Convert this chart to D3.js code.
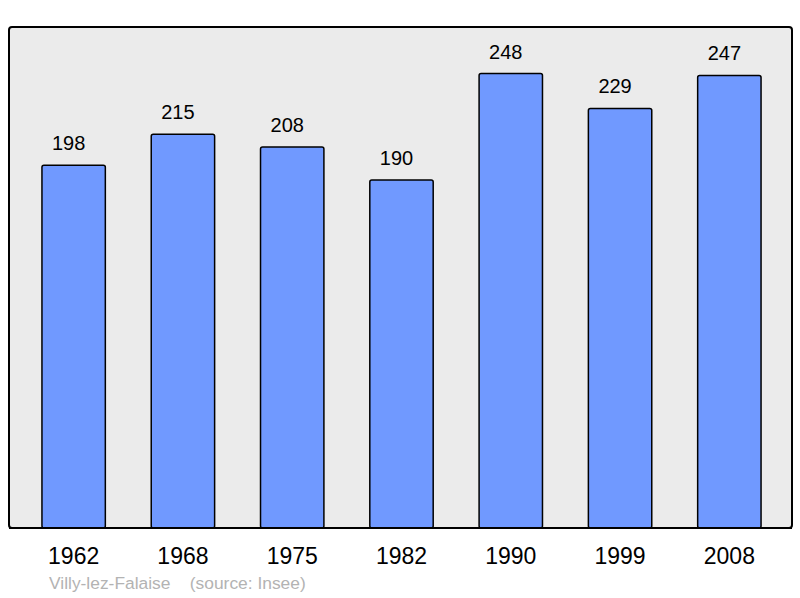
<!DOCTYPE html>
<html>
<head>
<meta charset="utf-8">
<script src="https://cdn.jsdelivr.net/npm/d3@7"></script>
<style>
  body { margin: 0; background: #fff; }
  text { font-family: "Liberation Sans", Arial, sans-serif; }
</style>
</head>
<body>
<div id="chart"></div>
<script>
'use strict';

const years = ['1962', '1968', '1975', '1982', '1990', '1999', '2008'];
const population = [198, 215, 208, 190, 248, 229, 247];
const commune = 'Villy-lez-Falaise';
const source = '(source: Insee)';

const settings = {
    width: 800,
    height: 598,
    elId: '#chart',
};

const frame = { left: 9, top: 27, right: 792, bottom: 528 };

const svg = d3.select(settings.elId)
    .append('svg')
    .attr('width', settings.width)
    .attr('height', settings.height);

// plot background
svg.append('rect')
    .attr('x', frame.left)
    .attr('y', frame.top)
    .attr('width', frame.right - frame.left)
    .attr('height', frame.bottom - frame.top)
    .attr('rx', 3)
    .attr('fill', '#ebebeb')
    .attr('stroke', '#000')
    .attr('stroke-width', 2);

const x = d3.scaleBand()
    .domain(years)
    .range([19, 784])
    .paddingInner(0.42)
    .paddingOuter(0.21);

const y = d3.scaleLinear()
    .domain([0, d3.max(population) * 1.1])
    .range([frame.bottom, frame.top]);

const data = years.map((yr, i) => ({ year: yr, value: population[i] }));

// bars
svg.append('g')
    .selectAll('rect')
    .data(data)
    .enter()
    .append('rect')
    .attr('x', d => x(d.year))
    .attr('y', d => y(d.value) + 1)
    .attr('width', x.bandwidth())
    .attr('height', d => frame.bottom - y(d.value) - 1)
    .attr('rx', 2)
    .attr('fill', '#7099ff')
    .attr('stroke', '#000')
    .attr('stroke-width', 1.5);

// redraw bottom edge of the frame over the bars
svg.append('line')
    .attr('x1', frame.left)
    .attr('x2', frame.right)
    .attr('y1', frame.bottom)
    .attr('y2', frame.bottom)
    .attr('stroke', '#000')
    .attr('stroke-width', 2);

// value labels
svg.append('g')
    .selectAll('text')
    .data(data)
    .enter()
    .append('text')
    .attr('x', d => x(d.year) + x.bandwidth() / 2 - 5)
    .attr('y', d => y(d.value) - 14)
    .attr('text-anchor', 'middle')
    .attr('font-size', '20px')
    .attr('fill', '#000')
    .text(d => d.value);

// year axis
const axis = svg.append('g')
    .attr('transform', `translate(0,${frame.bottom})`)
    .call(d3.axisBottom(x).tickSize(0).tickPadding(0));
axis.select('.domain').remove();
axis.selectAll('text')
    .attr('y', 36)
    .attr('dy', 0)
    .attr('font-size', '23px')
    .attr('font-family', '"Liberation Sans", Arial, sans-serif')
    .attr('fill', '#000');

// footer
svg.append('text')
    .attr('x', 49)
    .attr('y', 589)
    .attr('font-size', '17.4px')
    .attr('fill', '#b3b3b3')
    .attr('xml:space', 'preserve')
    .text(commune + '    ' + source);
</script>
</body>
</html>
